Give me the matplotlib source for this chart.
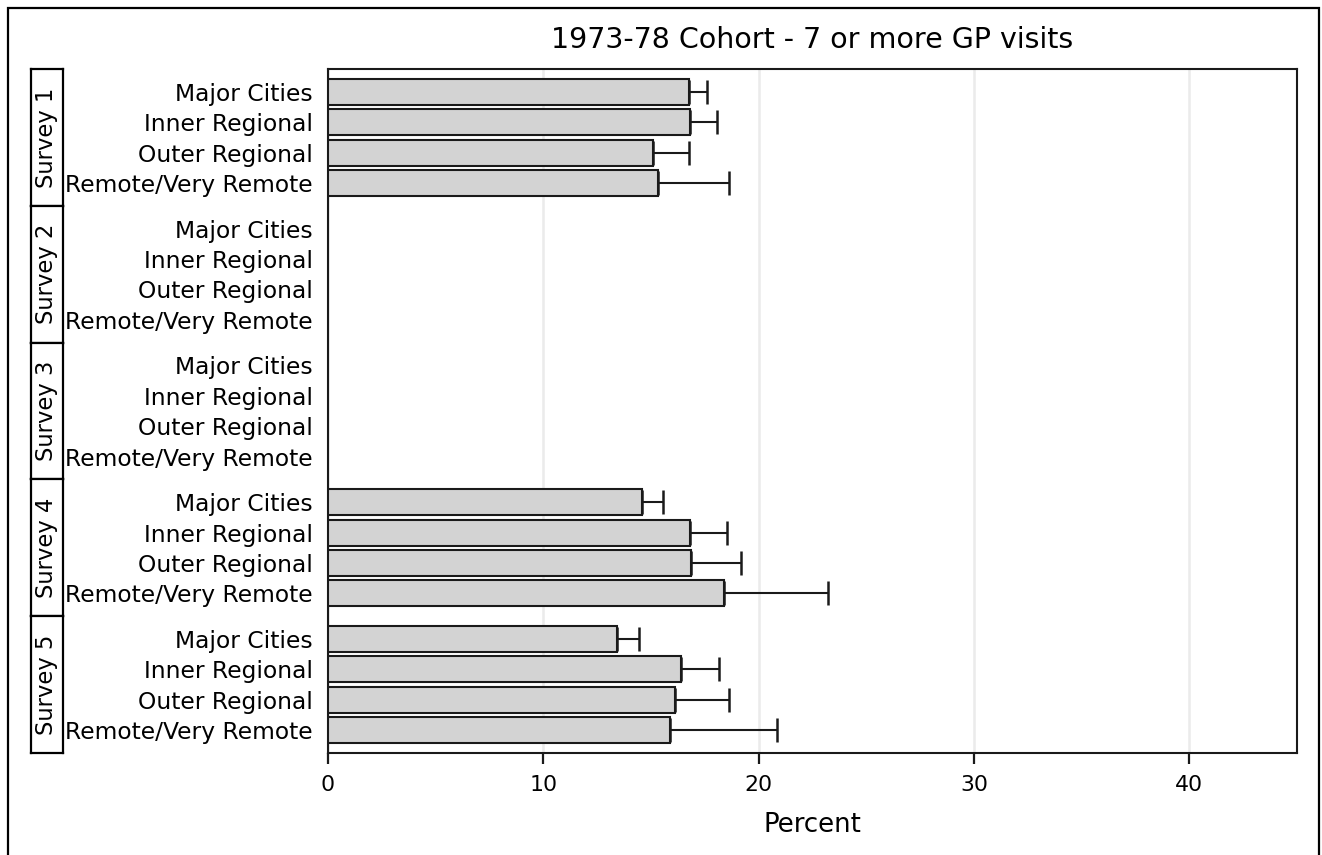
import numpy as np
import matplotlib
matplotlib.use("Agg")
import matplotlib.pyplot as plt
from matplotlib.patches import Rectangle

# datos
surveys = ["Survey 1", "Survey 2", "Survey 3", "Survey 4", "Survey 5"]
areas = ["Major Cities", "Inner Regional", "Outer Regional", "Remote/Very Remote"]

# porcentaje por encuesta (nan = sin datos)
pct_s1 = [16.77, 16.83, 15.11, 15.31]
pct_s2 = [np.nan, np.nan, np.nan, np.nan]
pct_s3 = [np.nan, np.nan, np.nan, np.nan]
pct_s4 = [14.58, 16.81, 16.86, 18.39]
pct_s5 = [13.43, 16.39, 16.12, 15.87]

# limite superior del intervalo
upper_s1 = [17.62, 18.05, 16.77, 18.63]
upper_s2 = [np.nan, np.nan, np.nan, np.nan]
upper_s3 = [np.nan, np.nan, np.nan, np.nan]
upper_s4 = [15.57, 18.51, 19.18, 23.22]
upper_s5 = [14.46, 18.18, 18.62, 20.86]

xticks = [0, 10, 20, 30, 40]
title = "1973-78 Cohort - 7 or more GP visits"

pct = [pct_s1, pct_s2, pct_s3, pct_s4, pct_s5]
upper = [upper_s1, upper_s2, upper_s3, upper_s4, upper_s5]

plt.rcParams['font.family'] = ['DejaVu Sans']

W, H = 1322, 855
fig = plt.figure(figsize=(W / 100, H / 100), dpi=100)

# borde exterior de la figura
fig.patches.append(Rectangle((8 / W, -0.01), (1319 - 8) / W, 1.01 - 8 / H,
                             transform=fig.transFigure, fill=False,
                             edgecolor='black', linewidth=1.6))

ax_left, ax_right = 328 / W, 1297 / W
ax_bottom, ax_top = 1 - 753 / H, 1 - 69 / H
ax = fig.add_axes([ax_left, ax_bottom, ax_right - ax_left, ax_top - ax_bottom])

step = 4.5
ypos, labels = [], []
for g in range(len(surveys)):
    y = g * step + np.arange(len(areas))
    vals = np.array(pct[g], dtype=float)
    ups = np.array(upper[g], dtype=float)
    ok = ~np.isnan(vals)
    if ok.any():
        ax.barh(y[ok], vals[ok], height=0.85, color='#d3d3d3',
                edgecolor='#1a1a1a', linewidth=1.5, zorder=3)
        err = np.vstack([np.zeros(ok.sum()), ups[ok] - vals[ok]])
        ax.errorbar(vals[ok], y[ok], xerr=err, fmt='none', ecolor='#1a1a1a',
                    elinewidth=1.5, capsize=8.5, capthick=1.8, zorder=4)
    ypos.extend(y)
    labels.extend(areas)

ax.set_xlim(0, 45)
ax.set_ylim((len(surveys) - 1) * step + 3.75, -0.75)
ax.set_yticks(ypos)
ax.set_yticklabels(labels, fontsize=16.8)
ax.tick_params(axis='y', length=0, pad=11)
ax.set_xticks(xticks)
ax.set_xticklabels([str(t) for t in xticks], fontsize=15.8)
ax.tick_params(axis='x', length=8, width=1.6, pad=8, color='#1a1a1a')
ax.xaxis.grid(True, color='#ebebeb', linewidth=1.8, zorder=0)
ax.set_axisbelow(True)
for s in ax.spines.values():
    s.set_linewidth(1.5)
    s.set_color('#1a1a1a')

ax.set_xlabel("Percent", fontsize=18.7, labelpad=12)

fig.text((ax_left + ax_right) / 2, 1 - 40 / H, title, fontsize=20.5,
         ha='center', va='center')

# cajas laterales con el nombre de cada encuesta
strip_h = (ax_top - ax_bottom) / len(surveys)
for g, name in enumerate(surveys):
    sax = fig.add_axes([31 / W, ax_top - (g + 1) * strip_h, 32 / W, strip_h])
    sax.set_xticks([])
    sax.set_yticks([])
    for s in sax.spines.values():
        s.set_linewidth(1.6)
        s.set_color('black')
    sax.text(0.5, 0.5, name, rotation=90, fontsize=16.3, ha='center',
             va='center', transform=sax.transAxes)

fig.savefig("out.png", dpi=100)
